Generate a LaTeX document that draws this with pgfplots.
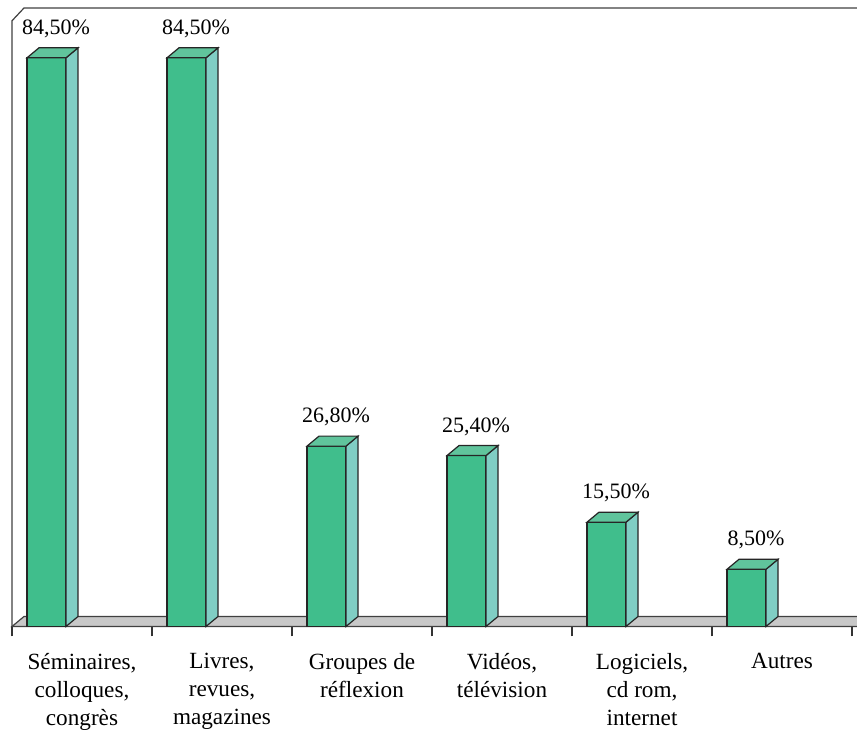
\documentclass[border=0pt]{standalone}
\usepackage{pgfplots}
\pgfplotsset{compat=1.18}
\usepackage{pgfplotstable}
\usepackage{fontspec}
\setmainfont{Liberation Serif}
\definecolor{barfront}{RGB}{64,190,140}
\definecolor{barside}{RGB}{128,206,196}
\definecolor{bartop}{RGB}{96,196,156}
\definecolor{floorgray}{RGB}{200,200,200}
\pgfplotstableread{
x v
0.5 84.5
1.5 84.5
2.5 26.8
3.5 25.4
4.5 15.5
5.5 8.5
}\datatable
\begin{document}
\begin{tikzpicture}
\useasboundingbox (-6pt,-53.25pt) rectangle (422.5pt,313.25pt);
\begin{axis}[
  at={(0pt,0pt)}, anchor=origin,
  x=70pt, y=3.365pt,
  xmin=0, xmax=6, ymin=0, ymax=90,
  clip=false,
  axis x line*=bottom, axis y line=none,
  axis line style={-, black!80, line width=0.6pt},
  xtick={0.5,1.5,2.5,3.5,4.5,5.5},
  xticklabels={{Séminaires,\\colloques,\\congrès},{Livres,\\revues,\\magazines},{Groupes de\\réflexion},{Vidéos,\\télévision},{Logiciels,\\cd rom,\\internet},{Autres}},
  xticklabel style={align=center, anchor=north, font=\fontsize{11.6}{14}\selectfont, yshift=-10pt},
  major tick length=0pt,
  minor xtick={0,1,2,3,4,5,6},
  minor tick length=5pt,
  tick align=outside,
  minor x tick style={black!80, line width=0.6pt},
]
% floor
\addplot[fill=floorgray, draw=black!75, line width=0.6pt] coordinates {(0,0) (6.2,0) (6.2,1.486) (0.0857,1.486)} -- cycle;
% walls
\addplot[draw=black!75, line width=0.6pt] coordinates {(0,0) (0,90) (0.0857,91.9) (6.2,91.9)};
% bar fronts
\addplot[draw=none, mark=none, only marks,
  point meta=\thisrow{v},
  visualization depends on={\thisrow{v} \as \val},
  nodes near coords={},
  every node near coord/.style={draw=black!85, fill=barfront, line width=0.6pt,
    inner sep=0pt, outer sep=0pt, minimum width=19.5pt, minimum height=\val*3.365pt,
    anchor=north, xshift=-17.75pt},
] table[x=x, y=v] {\datatable};
% bar sides
\addplot[draw=none, mark=none, only marks,
  point meta=\thisrow{v},
  visualization depends on={\thisrow{v} \as \val},
  nodes near coords={},
  every node near coord/.style={draw=black!85, fill=barside, line width=0.6pt,
    inner sep=0pt, outer sep=0pt, minimum width=6pt, minimum height=\val*3.365pt,
    anchor=north west, xshift=-8pt, yslant=0.8333},
] table[x=x, y=v] {\datatable};
% bar tops
\addplot[draw=none, mark=none, only marks,
  point meta=\thisrow{v},
  nodes near coords={},
  every node near coord/.style={draw=black!85, fill=bartop, line width=0.6pt,
    inner sep=0pt, outer sep=0pt, minimum width=19.5pt, minimum height=5pt,
    anchor=south west, xshift=-27.5pt, xslant=1.2},
] table[x=x, y=v] {\datatable};
% labels
\addplot[draw=none, mark=none, only marks,
  point meta=\thisrow{v},
  nodes near coords={\pgfmathprintnumber[fixed,fixed zerofill,precision=2,use comma,assume math mode=true]{\pgfplotspointmeta}\%},
  every node near coord/.style={anchor=center, xshift=-13pt, yshift=14.5pt, text=black, font=\fontsize{11}{13}\selectfont},
] table[x=x, y=v] {\datatable};
\end{axis}
\end{tikzpicture}
\end{document}
